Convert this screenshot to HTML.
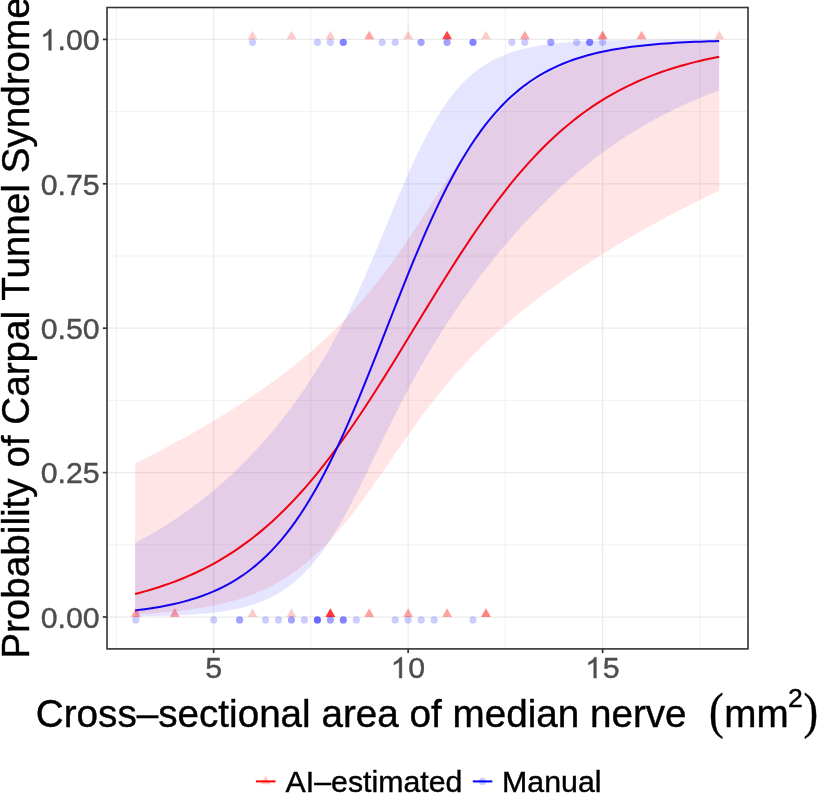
<!DOCTYPE html>
<html><head><meta charset="utf-8"><title>plot</title>
<style>
html,body{margin:0;padding:0;background:#fff;}
body{width:818px;height:794px;overflow:hidden;}
svg{display:block;}
text{font-family:"Liberation Sans",sans-serif;}
svg{will-change:transform;}
text[fill="#000"]{stroke:#000;stroke-width:0.4px;}
text[fill="#4d4d4d"]{stroke:#4d4d4d;stroke-width:0.4px;}
.serif{font-family:"Liberation Serif",serif;}
</style></head><body>
<svg width="818" height="794" viewBox="0 0 818 794">
<rect width="818" height="794" fill="#fff"/>
<g id="grid">
<line x1="107.0" x2="748.0" y1="544.80" y2="544.80" stroke="#ebebeb" stroke-width="0.65"/>
<line x1="107.0" x2="748.0" y1="400.40" y2="400.40" stroke="#ebebeb" stroke-width="0.65"/>
<line x1="107.0" x2="748.0" y1="256.00" y2="256.00" stroke="#ebebeb" stroke-width="0.65"/>
<line x1="107.0" x2="748.0" y1="111.60" y2="111.60" stroke="#ebebeb" stroke-width="0.65"/>
<line y1="7.5" y2="648.9" x1="116.40" x2="116.40" stroke="#ebebeb" stroke-width="0.65"/>
<line y1="7.5" y2="648.9" x1="310.90" x2="310.90" stroke="#ebebeb" stroke-width="0.65"/>
<line y1="7.5" y2="648.9" x1="505.40" x2="505.40" stroke="#ebebeb" stroke-width="0.65"/>
<line y1="7.5" y2="648.9" x1="699.90" x2="699.90" stroke="#ebebeb" stroke-width="0.65"/>
<line x1="107.0" x2="748.0" y1="617.00" y2="617.00" stroke="#ebebeb" stroke-width="1.25"/>
<line x1="107.0" x2="748.0" y1="472.60" y2="472.60" stroke="#ebebeb" stroke-width="1.25"/>
<line x1="107.0" x2="748.0" y1="328.20" y2="328.20" stroke="#ebebeb" stroke-width="1.25"/>
<line x1="107.0" x2="748.0" y1="183.80" y2="183.80" stroke="#ebebeb" stroke-width="1.25"/>
<line x1="107.0" x2="748.0" y1="39.40" y2="39.40" stroke="#ebebeb" stroke-width="1.25"/>
<line y1="7.5" y2="648.9" x1="213.65" x2="213.65" stroke="#ebebeb" stroke-width="1.25"/>
<line y1="7.5" y2="648.9" x1="408.15" x2="408.15" stroke="#ebebeb" stroke-width="1.25"/>
<line y1="7.5" y2="648.9" x1="602.65" x2="602.65" stroke="#ebebeb" stroke-width="1.25"/>
</g>
<g id="ribbons">
<path d="M135.11,463.28 L139.98,460.90 L144.84,458.49 L149.71,456.05 L154.58,453.58 L159.45,451.07 L164.31,448.54 L169.18,445.96 L174.05,443.36 L178.91,440.72 L183.78,438.04 L188.65,435.33 L193.52,432.59 L198.38,429.80 L203.25,426.98 L208.12,424.12 L212.98,421.21 L217.85,418.27 L222.72,415.28 L227.58,412.25 L232.45,409.18 L237.32,406.06 L242.19,402.88 L247.05,399.66 L251.92,396.39 L256.79,393.06 L261.65,389.68 L266.52,386.24 L271.39,382.73 L276.26,379.16 L281.12,375.52 L285.99,371.81 L290.86,368.03 L295.72,364.16 L300.59,360.21 L305.46,356.17 L310.32,352.04 L315.19,347.80 L320.06,343.46 L324.93,339.01 L329.79,334.43 L334.66,329.73 L339.53,324.90 L344.39,319.92 L349.26,314.79 L354.13,309.51 L358.99,304.06 L363.86,298.45 L368.73,292.65 L373.60,286.68 L378.46,280.53 L383.33,274.19 L388.20,267.67 L393.06,260.97 L397.93,254.10 L402.80,247.08 L407.67,239.91 L412.53,232.62 L417.40,225.23 L422.27,217.76 L427.13,210.24 L432.00,202.70 L436.87,195.18 L441.73,187.69 L446.60,180.27 L451.47,172.96 L456.34,165.77 L461.20,158.75 L466.07,151.90 L470.94,145.25 L475.80,138.83 L480.67,132.63 L485.54,126.69 L490.40,120.99 L495.27,115.56 L500.14,110.39 L505.01,105.49 L509.87,100.84 L514.74,96.46 L519.61,92.33 L524.47,88.45 L529.34,84.81 L534.21,81.40 L539.08,78.22 L543.94,75.24 L548.81,72.47 L553.68,69.89 L558.54,67.50 L563.41,65.27 L568.28,63.21 L573.14,61.31 L578.01,59.54 L582.88,57.91 L587.75,56.40 L592.61,55.01 L597.48,53.73 L602.35,52.55 L607.21,51.46 L612.08,50.46 L616.95,49.54 L621.81,48.69 L626.68,47.91 L631.55,47.20 L636.42,46.54 L641.28,45.94 L646.15,45.39 L651.02,44.88 L655.88,44.41 L660.75,43.99 L665.62,43.60 L670.49,43.24 L675.35,42.91 L680.22,42.61 L685.09,42.34 L689.95,42.09 L694.82,41.85 L699.69,41.64 L704.55,41.45 L709.42,41.27 L714.29,41.11 L719.16,40.97 L719.16,190.69 L714.29,193.00 L709.42,195.33 L704.55,197.69 L699.69,200.08 L694.82,202.50 L689.95,204.94 L685.09,207.42 L680.22,209.92 L675.35,212.46 L670.49,215.02 L665.62,217.61 L660.75,220.24 L655.88,222.89 L651.02,225.58 L646.15,228.30 L641.28,231.05 L636.42,233.84 L631.55,236.65 L626.68,239.51 L621.81,242.39 L616.95,245.31 L612.08,248.27 L607.21,251.27 L602.35,254.30 L597.48,257.37 L592.61,260.48 L587.75,263.64 L582.88,266.83 L578.01,270.07 L573.14,273.35 L568.28,276.68 L563.41,280.06 L558.54,283.49 L553.68,286.98 L548.81,290.52 L543.94,294.11 L539.08,297.77 L534.21,301.49 L529.34,305.28 L524.47,309.14 L519.61,313.07 L514.74,317.09 L509.87,321.18 L505.01,325.37 L500.14,329.64 L495.27,334.02 L490.40,338.50 L485.54,343.10 L480.67,347.81 L475.80,352.64 L470.94,357.61 L466.07,362.71 L461.20,367.95 L456.34,373.35 L451.47,378.90 L446.60,384.60 L441.73,390.47 L436.87,396.50 L432.00,402.68 L427.13,409.03 L422.27,415.52 L417.40,422.15 L412.53,428.91 L407.67,435.78 L402.80,442.74 L397.93,449.76 L393.06,456.83 L388.20,463.92 L383.33,470.99 L378.46,478.03 L373.60,484.99 L368.73,491.86 L363.86,498.61 L358.99,505.21 L354.13,511.63 L349.26,517.87 L344.39,523.90 L339.53,529.71 L334.66,535.29 L329.79,540.63 L324.93,545.73 L320.06,550.57 L315.19,555.17 L310.32,559.52 L305.46,563.63 L300.59,567.50 L295.72,571.13 L290.86,574.54 L285.99,577.73 L281.12,580.71 L276.26,583.50 L271.39,586.09 L266.52,588.50 L261.65,590.74 L256.79,592.82 L251.92,594.75 L247.05,596.53 L242.19,598.18 L237.32,599.71 L232.45,601.11 L227.58,602.41 L222.72,603.61 L217.85,604.72 L212.98,605.73 L208.12,606.67 L203.25,607.53 L198.38,608.32 L193.52,609.05 L188.65,609.72 L183.78,610.33 L178.91,610.89 L174.05,611.41 L169.18,611.88 L164.31,612.32 L159.45,612.71 L154.58,613.08 L149.71,613.41 L144.84,613.72 L139.98,614.00 L135.11,614.26Z" fill="#ff0000" fill-opacity="0.1"/>
<path d="M135.11,542.92 L139.98,540.36 L144.84,537.71 L149.71,534.98 L154.58,532.17 L159.45,529.27 L164.31,526.27 L169.18,523.19 L174.05,520.02 L178.91,516.74 L183.78,513.37 L188.65,509.90 L193.52,506.33 L198.38,502.65 L203.25,498.86 L208.12,494.96 L212.98,490.94 L217.85,486.81 L222.72,482.56 L227.58,478.18 L232.45,473.68 L237.32,469.05 L242.19,464.28 L247.05,459.37 L251.92,454.32 L256.79,449.12 L261.65,443.76 L266.52,438.25 L271.39,432.57 L276.26,426.71 L281.12,420.67 L285.99,414.44 L290.86,408.01 L295.72,401.38 L300.59,394.51 L305.46,387.42 L310.32,380.07 L315.19,372.46 L320.06,364.58 L324.93,356.40 L329.79,347.91 L334.66,339.10 L339.53,329.95 L344.39,320.46 L349.26,310.61 L354.13,300.42 L358.99,289.88 L363.86,279.01 L368.73,267.85 L373.60,256.44 L378.46,244.82 L383.33,233.07 L388.20,221.26 L393.06,209.48 L397.93,197.80 L402.80,186.32 L407.67,175.12 L412.53,164.29 L417.40,153.87 L422.27,143.95 L427.13,134.54 L432.00,125.70 L436.87,117.44 L441.73,109.76 L446.60,102.67 L451.47,96.15 L456.34,90.19 L461.20,84.75 L466.07,79.82 L470.94,75.36 L475.80,71.35 L480.67,67.73 L485.54,64.50 L490.40,61.60 L495.27,59.02 L500.14,56.73 L505.01,54.68 L509.87,52.87 L514.74,51.26 L519.61,49.84 L524.47,48.58 L529.34,47.47 L534.21,46.49 L539.08,45.63 L543.94,44.87 L548.81,44.20 L553.68,43.61 L558.54,43.09 L563.41,42.64 L568.28,42.24 L573.14,41.89 L578.01,41.58 L582.88,41.31 L587.75,41.07 L592.61,40.87 L597.48,40.68 L602.35,40.52 L607.21,40.38 L612.08,40.26 L616.95,40.15 L621.81,40.06 L626.68,39.98 L631.55,39.90 L636.42,39.84 L641.28,39.79 L646.15,39.74 L651.02,39.70 L655.88,39.66 L660.75,39.63 L665.62,39.60 L670.49,39.57 L675.35,39.55 L680.22,39.53 L685.09,39.52 L689.95,39.50 L694.82,39.49 L699.69,39.48 L704.55,39.47 L709.42,39.46 L714.29,39.45 L719.16,39.45 L719.16,90.39 L714.29,92.19 L709.42,94.05 L704.55,95.96 L699.69,97.94 L694.82,99.98 L689.95,102.09 L685.09,104.26 L680.22,106.50 L675.35,108.81 L670.49,111.19 L665.62,113.64 L660.75,116.17 L655.88,118.77 L651.02,121.45 L646.15,124.21 L641.28,127.06 L636.42,129.98 L631.55,132.99 L626.68,136.08 L621.81,139.26 L616.95,142.52 L612.08,145.88 L607.21,149.33 L602.35,152.87 L597.48,156.51 L592.61,160.24 L587.75,164.07 L582.88,168.00 L578.01,172.03 L573.14,176.16 L568.28,180.39 L563.41,184.73 L558.54,189.17 L553.68,193.71 L548.81,198.37 L543.94,203.13 L539.08,208.00 L534.21,212.99 L529.34,218.08 L524.47,223.29 L519.61,228.62 L514.74,234.06 L509.87,239.63 L505.01,245.31 L500.14,251.11 L495.27,257.05 L490.40,263.11 L485.54,269.30 L480.67,275.62 L475.80,282.09 L470.94,288.70 L466.07,295.45 L461.20,302.36 L456.34,309.42 L451.47,316.66 L446.60,324.06 L441.73,331.65 L436.87,339.42 L432.00,347.39 L427.13,355.56 L422.27,363.94 L417.40,372.54 L412.53,381.36 L407.67,390.40 L402.80,399.65 L397.93,409.11 L393.06,418.76 L388.20,428.58 L383.33,438.52 L378.46,448.55 L373.60,458.62 L368.73,468.67 L363.86,478.64 L358.99,488.45 L354.13,498.04 L349.26,507.35 L344.39,516.32 L339.53,524.90 L334.66,533.05 L329.79,540.74 L324.93,547.94 L320.06,554.65 L315.19,560.86 L310.32,566.59 L305.46,571.83 L300.59,576.62 L295.72,580.98 L290.86,584.92 L285.99,588.48 L281.12,591.68 L276.26,594.56 L271.39,597.13 L266.52,599.43 L261.65,601.48 L256.79,603.30 L251.92,604.92 L247.05,606.35 L242.19,607.63 L237.32,608.75 L232.45,609.74 L227.58,610.62 L222.72,611.40 L217.85,612.08 L212.98,612.68 L208.12,613.21 L203.25,613.67 L198.38,614.08 L193.52,614.44 L188.65,614.76 L183.78,615.03 L178.91,615.28 L174.05,615.49 L169.18,615.68 L164.31,615.84 L159.45,615.99 L154.58,616.11 L149.71,616.22 L144.84,616.32 L139.98,616.40 L135.11,616.48Z" fill="#0000ff" fill-opacity="0.1"/>
</g>
<g id="lines" fill="none" stroke-width="2" stroke-linejoin="round">
<path d="M135.11,593.93 L139.98,592.67 L144.84,591.34 L149.71,589.95 L154.58,588.48 L159.45,586.94 L164.31,585.32 L169.18,583.62 L174.05,581.83 L178.91,579.96 L183.78,577.99 L188.65,575.93 L193.52,573.76 L198.38,571.49 L203.25,569.11 L208.12,566.62 L212.98,564.01 L217.85,561.28 L222.72,558.43 L227.58,555.45 L232.45,552.33 L237.32,549.08 L242.19,545.69 L247.05,542.15 L251.92,538.46 L256.79,534.63 L261.65,530.63 L266.52,526.48 L271.39,522.17 L276.26,517.70 L281.12,513.05 L285.99,508.25 L290.86,503.27 L295.72,498.12 L300.59,492.80 L305.46,487.31 L310.32,481.65 L315.19,475.83 L320.06,469.83 L324.93,463.67 L329.79,457.35 L334.66,450.86 L339.53,444.23 L344.39,437.44 L349.26,430.51 L354.13,423.45 L358.99,416.25 L363.86,408.93 L368.73,401.50 L373.60,393.96 L378.46,386.32 L383.33,378.60 L388.20,370.81 L393.06,362.95 L397.93,355.04 L402.80,347.08 L407.67,339.10 L412.53,331.10 L417.40,323.10 L422.27,315.10 L427.13,307.13 L432.00,299.19 L436.87,291.29 L441.73,283.44 L446.60,275.67 L451.47,267.97 L456.34,260.36 L461.20,252.85 L466.07,245.45 L470.94,238.16 L475.80,231.00 L480.67,223.97 L485.54,217.08 L490.40,210.33 L495.27,203.74 L500.14,197.30 L505.01,191.02 L509.87,184.90 L514.74,178.95 L519.61,173.17 L524.47,167.56 L529.34,162.12 L534.21,156.85 L539.08,151.75 L543.94,146.82 L548.81,142.05 L553.68,137.46 L558.54,133.03 L563.41,128.76 L568.28,124.65 L573.14,120.70 L578.01,116.91 L582.88,113.26 L587.75,109.77 L592.61,106.41 L597.48,103.20 L602.35,100.12 L607.21,97.17 L612.08,94.35 L616.95,91.66 L621.81,89.08 L626.68,86.62 L631.55,84.28 L636.42,82.03 L641.28,79.90 L646.15,77.86 L651.02,75.92 L655.88,74.07 L660.75,72.30 L665.62,70.62 L670.49,69.03 L675.35,67.51 L680.22,66.06 L685.09,64.69 L689.95,63.38 L694.82,62.14 L699.69,60.96 L704.55,59.84 L709.42,58.77 L714.29,57.76 L719.16,56.80" stroke="#ee0011"/>
<path d="M135.11,610.42 L139.98,609.83 L144.84,609.19 L149.71,608.50 L154.58,607.75 L159.45,606.93 L164.31,606.04 L169.18,605.07 L174.05,604.02 L178.91,602.87 L183.78,601.63 L188.65,600.29 L193.52,598.83 L198.38,597.25 L203.25,595.53 L208.12,593.68 L212.98,591.66 L217.85,589.49 L222.72,587.14 L227.58,584.59 L232.45,581.85 L237.32,578.89 L242.19,575.70 L247.05,572.26 L251.92,568.57 L256.79,564.60 L261.65,560.34 L266.52,555.77 L271.39,550.88 L276.26,545.66 L281.12,540.08 L285.99,534.14 L290.86,527.82 L295.72,521.12 L300.59,514.01 L305.46,506.50 L310.32,498.58 L315.19,490.25 L320.06,481.50 L324.93,472.34 L329.79,462.78 L334.66,452.83 L339.53,442.50 L344.39,431.81 L349.26,420.78 L354.13,409.45 L358.99,397.83 L363.86,385.98 L368.73,373.91 L373.60,361.68 L378.46,349.33 L383.33,336.90 L388.20,324.43 L393.06,311.99 L397.93,299.60 L402.80,287.31 L407.67,275.18 L412.53,263.23 L417.40,251.52 L422.27,240.07 L427.13,228.92 L432.00,218.09 L436.87,207.62 L441.73,197.51 L446.60,187.80 L451.47,178.48 L456.34,169.57 L461.20,161.07 L466.07,152.99 L470.94,145.31 L475.80,138.05 L480.67,131.19 L485.54,124.72 L490.40,118.63 L495.27,112.91 L500.14,107.55 L505.01,102.53 L509.87,97.83 L514.74,93.45 L519.61,89.37 L524.47,85.57 L529.34,82.03 L534.21,78.74 L539.08,75.69 L543.94,72.87 L548.81,70.25 L553.68,67.82 L558.54,65.58 L563.41,63.50 L568.28,61.58 L573.14,59.81 L578.01,58.18 L582.88,56.67 L587.75,55.28 L592.61,54.00 L597.48,52.82 L602.35,51.74 L607.21,50.74 L612.08,49.82 L616.95,48.97 L621.81,48.19 L626.68,47.47 L631.55,46.81 L636.42,46.21 L641.28,45.65 L646.15,45.14 L651.02,44.67 L655.88,44.24 L660.75,43.84 L665.62,43.48 L670.49,43.14 L675.35,42.83 L680.22,42.55 L685.09,42.29 L689.95,42.05 L694.82,41.83 L699.69,41.63 L704.55,41.45 L709.42,41.28 L714.29,41.13 L719.16,40.98" stroke="#1400f0"/>
</g>
<g id="points">
<path d="M252.55,30.77 L247.60,39.37 L257.50,39.37Z" fill="#ff0000" fill-opacity="0.200"/>
<path d="M291.45,30.77 L286.50,39.37 L296.40,39.37Z" fill="#ff0000" fill-opacity="0.200"/>
<path d="M330.35,30.77 L325.40,39.37 L335.30,39.37Z" fill="#ff0000" fill-opacity="0.200"/>
<path d="M369.25,30.77 L364.30,39.37 L374.20,39.37Z" fill="#ff0000" fill-opacity="0.360"/>
<path d="M408.15,30.77 L403.20,39.37 L413.10,39.37Z" fill="#ff0000" fill-opacity="0.200"/>
<path d="M447.05,30.77 L442.10,39.37 L452.00,39.37Z" fill="#ff0000" fill-opacity="0.738"/>
<path d="M485.95,30.77 L481.00,39.37 L490.90,39.37Z" fill="#ff0000" fill-opacity="0.200"/>
<path d="M524.85,30.77 L519.90,39.37 L529.80,39.37Z" fill="#ff0000" fill-opacity="0.360"/>
<path d="M602.65,30.77 L597.70,39.37 L607.60,39.37Z" fill="#ff0000" fill-opacity="0.488"/>
<path d="M641.55,30.77 L636.60,39.37 L646.50,39.37Z" fill="#ff0000" fill-opacity="0.360"/>
<path d="M719.35,30.77 L714.40,39.37 L724.30,39.37Z" fill="#ff0000" fill-opacity="0.200"/>
<path d="M135.85,608.37 L130.90,616.97 L140.80,616.97Z" fill="#ff0000" fill-opacity="0.360"/>
<path d="M174.75,608.37 L169.80,616.97 L179.70,616.97Z" fill="#ff0000" fill-opacity="0.360"/>
<path d="M252.55,608.37 L247.60,616.97 L257.50,616.97Z" fill="#ff0000" fill-opacity="0.200"/>
<path d="M291.45,608.37 L286.50,616.97 L296.40,616.97Z" fill="#ff0000" fill-opacity="0.200"/>
<path d="M330.35,608.37 L325.40,616.97 L335.30,616.97Z" fill="#ff0000" fill-opacity="0.790"/>
<path d="M369.25,608.37 L364.30,616.97 L374.20,616.97Z" fill="#ff0000" fill-opacity="0.360"/>
<path d="M408.15,608.37 L403.20,616.97 L413.10,616.97Z" fill="#ff0000" fill-opacity="0.360"/>
<path d="M447.05,608.37 L442.10,616.97 L452.00,616.97Z" fill="#ff0000" fill-opacity="0.360"/>
<path d="M485.95,608.37 L481.00,616.97 L490.90,616.97Z" fill="#ff0000" fill-opacity="0.488"/>
<circle cx="252.55" cy="42.30" r="3.6" fill="#0000ff" fill-opacity="0.200"/>
<circle cx="317.40" cy="42.30" r="3.6" fill="#0000ff" fill-opacity="0.200"/>
<circle cx="330.35" cy="42.30" r="3.6" fill="#0000ff" fill-opacity="0.200"/>
<circle cx="343.30" cy="42.30" r="3.6" fill="#0000ff" fill-opacity="0.488"/>
<circle cx="382.20" cy="42.30" r="3.6" fill="#0000ff" fill-opacity="0.200"/>
<circle cx="395.20" cy="42.30" r="3.6" fill="#0000ff" fill-opacity="0.200"/>
<circle cx="421.10" cy="42.30" r="3.6" fill="#0000ff" fill-opacity="0.360"/>
<circle cx="447.05" cy="42.30" r="3.6" fill="#0000ff" fill-opacity="0.360"/>
<circle cx="473.00" cy="42.30" r="3.6" fill="#0000ff" fill-opacity="0.488"/>
<circle cx="511.90" cy="42.30" r="3.6" fill="#0000ff" fill-opacity="0.200"/>
<circle cx="524.85" cy="42.30" r="3.6" fill="#0000ff" fill-opacity="0.200"/>
<circle cx="550.80" cy="42.30" r="3.6" fill="#0000ff" fill-opacity="0.360"/>
<circle cx="576.70" cy="42.30" r="3.6" fill="#0000ff" fill-opacity="0.200"/>
<circle cx="589.70" cy="42.30" r="3.6" fill="#0000ff" fill-opacity="0.488"/>
<circle cx="602.65" cy="42.30" r="3.6" fill="#0000ff" fill-opacity="0.200"/>
<circle cx="135.85" cy="619.90" r="3.6" fill="#0000ff" fill-opacity="0.200"/>
<circle cx="213.65" cy="619.90" r="3.6" fill="#0000ff" fill-opacity="0.200"/>
<circle cx="239.60" cy="619.90" r="3.6" fill="#0000ff" fill-opacity="0.360"/>
<circle cx="265.50" cy="619.90" r="3.6" fill="#0000ff" fill-opacity="0.200"/>
<circle cx="278.50" cy="619.90" r="3.6" fill="#0000ff" fill-opacity="0.200"/>
<circle cx="291.45" cy="619.90" r="3.6" fill="#0000ff" fill-opacity="0.360"/>
<circle cx="304.40" cy="619.90" r="3.6" fill="#0000ff" fill-opacity="0.200"/>
<circle cx="317.40" cy="619.90" r="3.6" fill="#0000ff" fill-opacity="0.590"/>
<circle cx="330.35" cy="619.90" r="3.6" fill="#0000ff" fill-opacity="0.360"/>
<circle cx="343.30" cy="619.90" r="3.6" fill="#0000ff" fill-opacity="0.488"/>
<circle cx="356.30" cy="619.90" r="3.6" fill="#0000ff" fill-opacity="0.200"/>
<circle cx="395.20" cy="619.90" r="3.6" fill="#0000ff" fill-opacity="0.200"/>
<circle cx="408.15" cy="619.90" r="3.6" fill="#0000ff" fill-opacity="0.200"/>
<circle cx="421.10" cy="619.90" r="3.6" fill="#0000ff" fill-opacity="0.200"/>
<circle cx="434.10" cy="619.90" r="3.6" fill="#0000ff" fill-opacity="0.200"/>
<circle cx="473.00" cy="619.90" r="3.6" fill="#0000ff" fill-opacity="0.200"/>
</g>
<rect x="107.0" y="7.5" width="641.0" height="641.4" fill="none" stroke="#333" stroke-width="1.6"/>
<g id="axes">
<line x1="102.80" x2="107.0" y1="617.00" y2="617.00" stroke="#333" stroke-width="1.7"/>
<text x="99.7" y="627.85" text-anchor="end" font-size="30.3" fill="#4d4d4d">0.00</text>
<line x1="102.80" x2="107.0" y1="472.60" y2="472.60" stroke="#333" stroke-width="1.7"/>
<text x="99.7" y="483.45" text-anchor="end" font-size="30.3" fill="#4d4d4d">0.25</text>
<line x1="102.80" x2="107.0" y1="328.20" y2="328.20" stroke="#333" stroke-width="1.7"/>
<text x="99.7" y="339.05" text-anchor="end" font-size="30.3" fill="#4d4d4d">0.50</text>
<line x1="102.80" x2="107.0" y1="183.80" y2="183.80" stroke="#333" stroke-width="1.7"/>
<text x="99.7" y="194.65" text-anchor="end" font-size="30.3" fill="#4d4d4d">0.75</text>
<line x1="102.80" x2="107.0" y1="39.40" y2="39.40" stroke="#333" stroke-width="1.7"/>
<text x="99.7" y="50.25" text-anchor="end" font-size="30.3" fill="#4d4d4d">.00</text>
<path d="M763,0H583V1147Q518,1085 412.5,1023Q307,961 223,930V1104Q374,1175 487,1276Q600,1377 647,1472H763Z" transform="translate(40.04,50.25) scale(0.01479,-0.01420)" fill="#4d4d4d" stroke="#4d4d4d" stroke-width="27.0"/>
<line y1="648.9" y2="653.10" x1="213.65" x2="213.65" stroke="#333" stroke-width="1.7"/>
<text x="213.65" y="678.1" text-anchor="middle" font-size="30.3" fill="#4d4d4d">5</text>
<line y1="648.9" y2="653.10" x1="408.15" x2="408.15" stroke="#333" stroke-width="1.7"/>
<text x="408.15" y="678.1" text-anchor="start" font-size="30.3" fill="#4d4d4d">0</text>
<path d="M763,0H583V1147Q518,1085 412.5,1023Q307,961 223,930V1104Q374,1175 487,1276Q600,1377 647,1472H763Z" transform="translate(390.60,678.10) scale(0.01479,-0.01420)" fill="#4d4d4d" stroke="#4d4d4d" stroke-width="27.0"/>
<line y1="648.9" y2="653.10" x1="602.65" x2="602.65" stroke="#333" stroke-width="1.7"/>
<text x="602.65" y="678.1" text-anchor="start" font-size="30.3" fill="#4d4d4d">5</text>
<path d="M763,0H583V1147Q518,1085 412.5,1023Q307,961 223,930V1104Q374,1175 487,1276Q600,1377 647,1472H763Z" transform="translate(585.10,678.10) scale(0.01479,-0.01420)" fill="#4d4d4d" stroke="#4d4d4d" stroke-width="27.0"/>
</g>
<text id="ytitle" transform="translate(28.8,328) rotate(-90)" text-anchor="middle" font-size="38.65" fill="#000">Probability of Carpal Tunnel Syndrome</text>
<text id="xtitle" x="35.8" y="727.3" font-size="38.65" fill="#000">Cross–sectional area of median nerve</text>
<text id="lp" class="serif" transform="translate(709.0,727.9) scale(0.86,1)" font-size="51" fill="#000">(</text>
<text id="mm" x="724.3" y="727.3" font-size="38.65" fill="#000">mm</text>
<text id="sup" x="788" y="707.2" font-size="26.5" fill="#000">2</text>
<text id="rp" class="serif" transform="translate(803.6,727.9) scale(0.86,1)" font-size="51" fill="#000">)</text>
<g id="legend">
<line x1="255.9" x2="275.5" y1="781.4" y2="781.4" stroke="#ff0000" stroke-width="2"/>
<path d="M265.7,775.7 L260.75,784.3 L270.65,784.3Z" fill="#ff0000" fill-opacity="0.2"/>
<text x="285.6" y="792.1" font-size="30.3" fill="#000">AI–estimated</text>
<line x1="472.8" x2="492.3" y1="781.4" y2="781.4" stroke="#0000ff" stroke-width="2"/>
<circle cx="482.5" cy="781.4" r="3.6" fill="#0000ff" fill-opacity="0.2"/>
<text x="502.1" y="792.1" font-size="30.3" fill="#000">Manual</text>
</g>
</svg>
</body></html>
